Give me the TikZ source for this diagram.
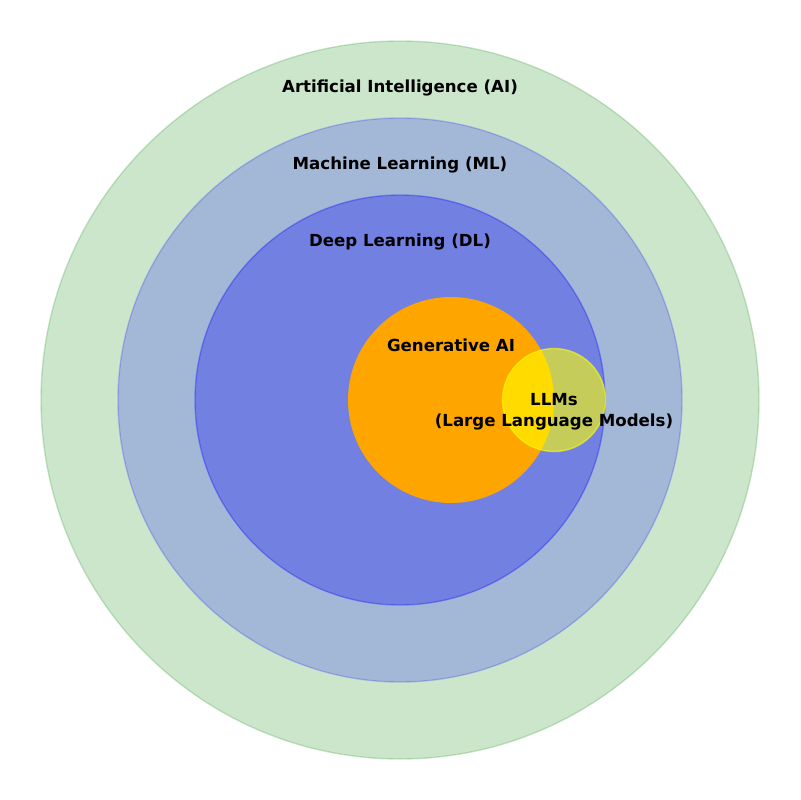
\documentclass[tikz,border=0pt]{standalone}
\usepackage{fontspec}
\setmainfont{DejaVu Sans}
\definecolor{fieldgreen}{RGB}{0,128,0}
\definecolor{fieldblue}{RGB}{0,0,255}
\definecolor{genorange}{RGB}{255,165,0}
\definecolor{llmyellow}{RGB}{255,255,0}
\begin{document}
\begin{tikzpicture}[x=0.01in,y=-0.01in,
  ring/.style={line width=1pt,fill opacity=#1,draw opacity=#1},
  lbl/.style={font=\bfseries\fontsize{12}{15}\selectfont,align=center,inner sep=0pt}]
\useasboundingbox (0,0) rectangle (800,800);
% nested fields
\filldraw[ring=0.2,draw=fieldgreen,fill=fieldgreen] (400,400) coordinate (ai) circle[radius=359];
\filldraw[ring=0.2,draw=fieldblue,fill=fieldblue] (400,400) coordinate (ml) circle[radius=282];
\filldraw[ring=0.3,draw=fieldblue,fill=fieldblue] (400,400) coordinate (dl) circle[radius=205];
\fill[genorange] (451,400) coordinate (gen) circle[radius=103];
\filldraw[ring=0.6,draw=llmyellow,fill=llmyellow] (554,400) coordinate (llm) circle[radius=51.5];
% labels
\node[lbl] (tai) at (400,88) {Artificial Intelligence (AI)};
\node[lbl] (tml) at (400,165) {Machine Learning (ML)};
\node[lbl] (tdl) at (400,242) {Deep Learning (DL)};
\node[lbl] (tgen) at (451,345) {Generative AI};
\node[lbl] (tllm) at (554,412) {LLMs\\(Large Language Models)};
\end{tikzpicture}
\end{document}
